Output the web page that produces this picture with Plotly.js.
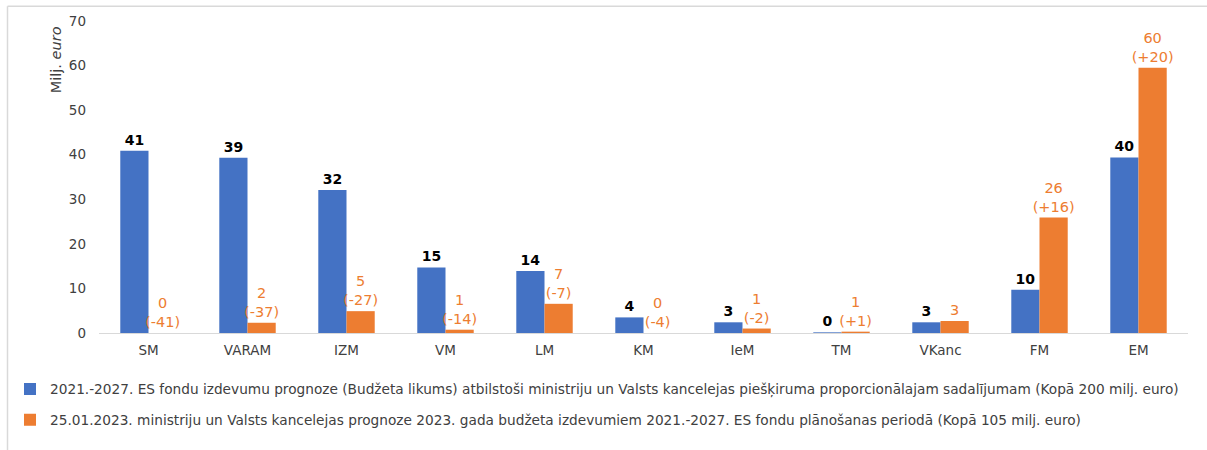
<!DOCTYPE html>
<html>
<head>
<meta charset="utf-8">
<script src="https://cdn.plot.ly/plotly-3.0.1.min.js"></script>
<style>html,body{margin:0;padding:0;background:#fff;}#chart{width:1207px;height:450px;}</style>
</head>
<body>
<div id="chart"></div>
<script>
const categories = ["SM","VARAM","IZM","VM","LM","KM","IeM","TM","VKanc","FM","EM"];
const budgetValues = [40.9, 39.3, 32.1, 14.7, 13.9, 3.5, 2.4, 0.15, 2.4, 9.7, 39.4];
const budgetLabels = ["41","39","32","15","14","4","3","0","3","10","40"];
const forecastValues = [0, 2.3, 4.9, 0.74, 6.55, 0, 1.0, 0.3, 2.7, 25.9, 59.5];
const forecastLabels = ["0<br>(-41)","2<br>(-37)","5<br>(-27)","1<br>(-14)","7<br>(-7)","0<br>(-4)","1<br>(-2)","1<br>(+1)","3","26<br>(+16)","60<br>(+20)"];
const seriesNames = [
  "2021.-2027. ES fondu izdevumu prognoze (Budžeta likums) atbilstoši ministriju un Valsts kancelejas piešķiruma proporcionālajam sadalījumam (Kopā 200 milj. euro)",
  "25.01.2023. ministriju un Valsts kancelejas prognoze 2023. gada budžeta izdevumiem 2021.-2027. ES fondu plānošanas periodā (Kopā 105 milj. euro)"
];
const yTicks = [0,10,20,30,40,50,60,70];

const font = "DejaVu Sans";

const traces = [
  {
    type: "bar", x: categories, y: budgetValues, name: seriesNames[0],
    marker: {color: "#4472C4"},
    text: budgetLabels, texttemplate: "<b>%{text}</b>", textposition: "outside",
    textfont: {family: font, size: 14, color: "#000"},
    constraintext: "none", cliponaxis: false, legendgroup: "a", hoverinfo: "skip"
  },
  {
    type: "bar", x: categories, y: forecastValues, name: seriesNames[1],
    marker: {color: "#ED7D31"},
    text: forecastLabels, texttemplate: "%{text}", textposition: "outside",
    textfont: {family: font, size: 14.5, color: "#ED7D31"},
    constraintext: "none", cliponaxis: false, legendgroup: "b", hoverinfo: "skip"
  }
];

const layout = {
  width: 1207, height: 450,
  margin: {l: 99, r: 19, t: 21, b: 117, autoexpand: false},
  paper_bgcolor: "#fff", plot_bgcolor: "#fff",
  font: {family: font, size: 13.5, color: "#404040"},
  barmode: "group", bargap: 0.43, bargroupgap: 0,
  showlegend: true,
  legend: {
    orientation: "v", x: (10 - 99) / 1089, xanchor: "left", y: -0.13, yanchor: "top",
    font: {family: font, size: 13.7, color: "#404040"},
    traceorder: "grouped", tracegroupgap: 10, itemwidth: 30
  },
  xaxis: {
    type: "category", showgrid: false, showline: true, linecolor: "#d9d9d9", linewidth: 1,
    ticks: "", tickfont: {family: font, size: 13.5, color: "#404040"}, ticklabelstandoff: 5
  },
  yaxis: {
    range: [0, 70], tickvals: yTicks, showgrid: false, showline: false, zeroline: false,
    ticks: "", tickfont: {family: font, size: 13.5, color: "#404040"}, ticklabelstandoff: 12
  },
  annotations: [
    {text: "Milj. <i>euro</i>", xref: "paper", yref: "paper",
     x: (56 - 99) / 1089, y: (333.3 - 60) / 312.6, textangle: -90, showarrow: false,
     font: {family: font, size: 14.5, color: "#404040"}, xanchor: "center", yanchor: "middle"}
  ],
  shapes: [
    {type: "line", xref: "paper", yref: "paper", x0: (7.5 - 99) / 1089, x1: (7.5 - 99) / 1089,
     y0: (333.3 - 6) / 312.6, y1: (333.3 - 452) / 312.6, line: {color: "#d9d9d9", width: 1.5}},
    {type: "line", xref: "paper", yref: "paper", x0: (7.5 - 99) / 1089, x1: (1210 - 99) / 1089,
     y0: (333.3 - 6) / 312.6, y1: (333.3 - 6) / 312.6, line: {color: "#d9d9d9", width: 1.5}}
  ]
};

Plotly.newPlot("chart", traces, layout, {staticPlot: true, displayModeBar: false});
</script>
</body>
</html>
